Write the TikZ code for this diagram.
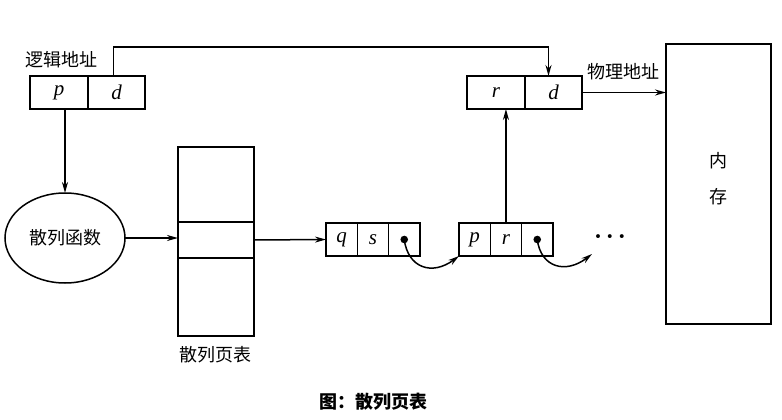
\documentclass[tikz,border=0pt]{standalone}
\usepackage{fontspec}
\setmainfont{Noto Sans CJK SC}
\newfontfamily\lat{Liberation Serif}
\usetikzlibrary{arrows.meta,positioning,shapes.geometric}

\begin{document}
\begin{tikzpicture}[x=1pt,y=-1pt,
    font=\fontsize{18}{21}\selectfont,
    box/.style={draw,line width=1.5pt,inner sep=0pt,outer sep=0pt},
    var/.style={font=\fontsize{21}{24}\selectfont\lat\itshape},
    cell/.style={box,var,minimum width=58pt,minimum height=33pt},
    link/.style={box,var,minimum width=31.3pt,minimum height=33pt},
    arr/.style={line width=1.5pt,-{Stealth[length=11pt,width=6pt]}}]
\useasboundingbox (0,0) rectangle (782,420);

% logical address
\node[cell,anchor=north west] (lp) at (30,76) {p};
\node[cell,minimum width=57pt,right=0pt of lp] (ld) {d};
\node[anchor=west] (lname) at (22,60) {逻辑地址};

% physical address
\node[cell,anchor=north west] (pr) at (467,76) {r};
\node[cell,minimum width=57pt,right=0pt of pr] (pd) {d};
\node[anchor=west] (pname) at (584,72) {物理地址};

% memory
\node[box,minimum width=105pt,minimum height=280pt,anchor=north west] (mem) at (666,44) {};
\node[align=center] (memtext) at (718,179) {内\\[15pt]存};

% hash function
\node[box,ellipse,minimum width=120pt,minimum height=90pt] (hash) at (65,238) {散列函数};

% hash page table
\node[box,minimum width=76pt,minimum height=75pt,anchor=north west] (ttop) at (178,147) {};
\node[box,minimum width=76pt,minimum height=36pt,below=0pt of ttop] (tmid) {};
\node[box,minimum width=76pt,minimum height=78pt,below=0pt of tmid] (tbot) {};
\node (tname) at (215,355) {散列页表};

% chain
\node[link,anchor=north west] (c1q) at (326,223) {q};
\node[link,right=0pt of c1q] (c1s) {s};
\node[link,right=0pt of c1s] (c1n) {};
\node[link,anchor=north west] (c2p) at (459,223) {p};
\node[link,right=0pt of c2p] (c2r) {r};
\node[link,right=0pt of c2r] (c2n) {};
\fill (c1n.center) circle (3.8pt);
\fill (c2n.center) circle (3.8pt);
\coordinate (more) at (592,254);
\node[font=\fontsize{24}{26}\selectfont\lat\bfseries] (dots) at (610,240) {·\,·\,·};

% connectors
\draw[arr] ([xshift=-3pt]ld.north) -- ++(0,-29) -| ([xshift=-5pt]pd.north);
\draw[arr] (pd.east) -- (pd.east -| mem.west);
\draw[arr] (lp.south -| hash.north) -- (hash.north);
\draw[arr] (hash.east) -- (hash.east -| ttop.west);
\draw[arr] (tmid.east) -- (c1q.west);
\draw[arr] (c1n.center) .. controls (408,268) and (432,276) .. (c2p.south west);
\draw[arr] (c2n.center) .. controls (541,268) and (566,274) .. (more);
\draw[arr] (c2r.north) -- (c2r.north |- pr.south);

\node[font=\fontsize{18}{21}\selectfont\bfseries] (cap) at (373,402) {图：散列页表};
\end{tikzpicture}
\end{document}
